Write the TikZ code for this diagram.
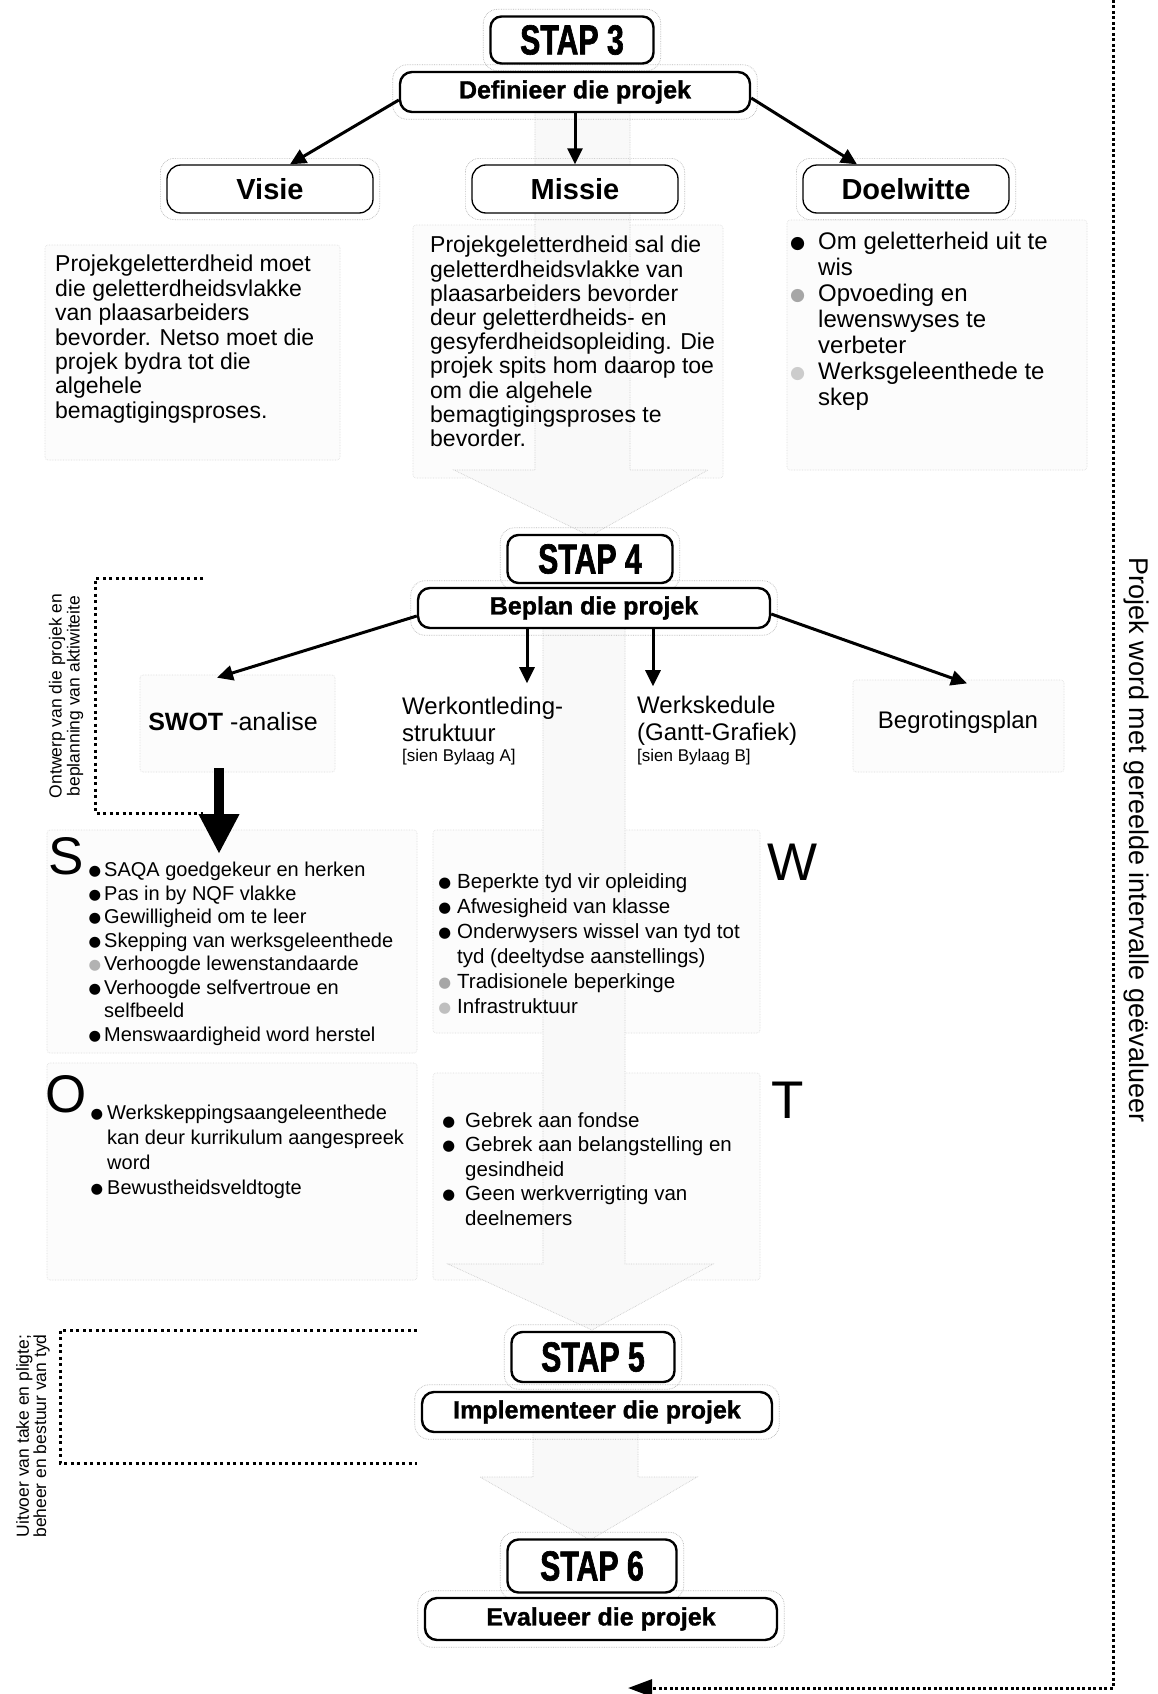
\documentclass[tikz,border=0pt]{standalone}
\usepackage{fontspec}
\usepackage{graphicx}
\setmainfont{Liberation Sans}
\newfontfamily\stapfont[FakeStretch=0.72,BoldFeatures={FakeBold=1.5}]{Liberation Sans}
\newfontfamily\subfont[BoldFeatures={FakeBold=1.2}]{Liberation Sans}
\newfontfamily\symfont{DejaVu Sans}
\usetikzlibrary{arrows.meta}
\pgfdeclarelayer{bg}
\pgfdeclarelayer{halolayer}
\pgfsetlayers{bg,halolayer,main}
\newcommand{\fsz}[2]{\fontsize{#1}{#2}\selectfont}
\newcommand{\sbul}[2][black]{\leavevmode\llap{\textcolor{#1}{\raisebox{0.04em}{\scalebox{0.72}{\symfont ●}}}\hspace{#2}}}
\begin{document}
\begin{tikzpicture}[x=1pt,y=1pt,
  stapbox/.style={draw=black, line width=2.4pt, rounded corners=11pt, fill=white, inner sep=0pt, font=\stapfont\bfseries\fsz{42}{42}},
  subbox/.style={draw=black, line width=2.4pt, rounded corners=12pt, fill=white, inner sep=0pt, font=\subfont\bfseries\fsz{25}{25}},
  headbox/.style={draw=black, line width=1.3pt, rounded corners=14pt, fill=white, inner sep=0pt, minimum width=206pt, minimum height=48pt, font=\bfseries\fsz{29}{29}},
  halobox/.style={draw=gray!55, line width=0.7pt, densely dotted, rounded corners=14pt},
  faintbox/.style={fill=gray!2, draw=gray!28, densely dotted, line width=0.6pt, rounded corners=3pt},
  blockarrow/.style={fill=gray!5, draw=gray!40, densely dotted, line width=0.7pt},
  body/.style={inner sep=0pt, anchor=north west, align=left},
  conn/.style={line width=3pt, -{Triangle[length=16pt,width=15pt]}},
  bigarrow/.style={line width=10pt, -{Triangle[length=40pt,width=38pt]}},
  dotline/.style={line width=3pt, dash pattern=on 3pt off 3.5pt},
  swotletter/.style={font=\fsz{53}{53}, inner sep=0pt},
]
\useasboundingbox (0,-1694) rectangle (1158,0);

% ---------- STAP 3 ----------
\node[stapbox, minimum width=163pt, minimum height=47pt] (s3) at (572,-40) {STAP 3};
\node[subbox, minimum width=350pt, minimum height=40pt] (d3) at (575,-92) {Definieer die projek};
\node[headbox] (visie) at (270,-189) {Visie};
\node[headbox] (missie) at (575,-189) {Missie};
\node[headbox] (doel) at (906,-189) {Doelwitte};

\node[body, font=\fsz{23}{24.4}] (visietxt) at (55,-255) {Projekgeletterdheid moet\\die geletterdheidsvlakke\\van plaasarbeiders\\bevorder. Netso moet die\\projek bydra tot die\\algehele\\bemagtigingsproses.};
\node[body, font=\fsz{23}{24.2}] (missietxt) at (430,-236) {Projekgeletterdheid sal die\\geletterdheidsvlakke van\\plaasarbeiders bevorder\\deur geletterdheids- en\\gesyferdheidsopleiding. Die\\projek spits hom daarop toe\\om die algehele\\bemagtigingsproses te\\bevorder.};
\node[body, font=\fsz{24}{26}] (doeltxt) at (818,-232) {\sbul{13pt}Om geletterheid uit te\\wis\\\sbul[gray!70]{13pt}Opvoeding en\\lewenswyses te\\verbeter\\\sbul[gray!40]{13pt}Werksgeleenthede te\\skep};

\draw[conn] ([yshift=-8pt]d3.west) -- ([xshift=20pt]visie.north);
\draw[conn] (d3.south) -- (missie.north);
\draw[conn] ([yshift=-6pt]d3.east) -- ([xshift=-49pt]doel.north);

% ---------- STAP 4 ----------
\node[stapbox, minimum width=165pt, minimum height=48pt] (s4) at (590,-559) {STAP 4};
\node[subbox, minimum width=352pt, minimum height=40pt] (b4) at (594,-608) {Beplan die projek};

\node[anchor=base, inner sep=0pt, font=\fsz{25}{25}] (swot) at (233,-730) {\textbf{SWOT} -analise};
\node[body, font=\fsz{24}{27}] (werk) at (402,-697) {Werkontleding-\\struktuur\\[-7pt]{\fsz{17}{17}[sien Bylaag A]}};
\node[body, font=\fsz{24}{27}] (sked) at (637,-696) {Werkskedule\\(Gantt-Grafiek)\\[-6pt]{\fsz{17}{17}[sien Bylaag B]}};
\node[anchor=base, inner sep=0pt, font=\fsz{24}{24}] (begr) at (958,-728) {Begrotingsplan};

\draw[conn] ([yshift=-8pt]b4.west) -- ([xshift=-16pt,yshift=34pt]swot.north);
\draw[conn] ([xshift=-67pt]b4.south) -- ([xshift=-67pt,yshift=-54pt]b4.south);
\draw[conn] ([xshift=59pt]b4.south) -- ([xshift=59pt,yshift=-57pt]b4.south);
\draw[conn] ([yshift=-6pt]b4.east) -- ([xshift=9pt,yshift=27pt]begr.north);

\draw[bigarrow] ([xshift=-14pt,yshift=-38pt]swot.base) -- ([xshift=-14pt,yshift=-124pt]swot.base);

% left bracket 1
\draw[dotline] (203,-578) -- (95,-578) -- (95,-813) -- (203,-813);
\node[rotate=90, align=center, font=\fsz{17.5}{18}, inner sep=0pt] (ontwerp) at (66,-696) {Ontwerp van die projek en\\beplanning van aktiwiteite};

% ---------- SWOT ----------
\node[swotletter] (S) at (66,-856) {S};
\node[body, font=\fsz{20}{23.5}] (Slist) at (104,-862) {\sbul{3pt}SAQA goedgekeur en herken\\\sbul{3pt}Pas in by NQF vlakke\\\sbul{3pt}Gewilligheid om te leer\\\sbul{3pt}Skepping van werksgeleenthede\\\sbul[gray!60]{3pt}Verhoogde lewenstandaarde\\\sbul{3pt}Verhoogde selfvertroue en\\selfbeeld\\\sbul{3pt}Menswaardigheid word herstel};

\node[swotletter] (W) at (793,-862) {W};
\node[body, font=\fsz{20.5}{25}] (Wlist) at (457,-873) {\sbul{6pt}Beperkte tyd vir opleiding\\\sbul{6pt}Afwesigheid van klasse\\\sbul{6pt}Onderwysers wissel van tyd tot\\tyd (deeltydse aanstellings)\\\sbul[gray!70]{6pt}Tradisionele beperkinge\\\sbul[gray!50]{6pt}Infrastruktuur};

\node[swotletter] (O) at (66,-1094) {O};
\node[body, font=\fsz{20}{25}] (Olist) at (107,-1105) {\sbul{4pt}Werkskeppingsaangeleenthede\\kan deur kurrikulum aangespreek\\word\\\sbul{4pt}Bewustheidsveldtogte};

\node[swotletter] (T) at (788,-1100) {T};
\node[body, font=\fsz{20.5}{24.5}] (Tlist) at (465,-1112) {\sbul{10pt}Gebrek aan fondse\\\sbul{10pt}Gebrek aan belangstelling en\\gesindheid\\\sbul{10pt}Geen werkverrigting van\\deelnemers};

% ---------- STAP 5 / 6 ----------
\node[stapbox, minimum width=163pt, minimum height=50pt] (s5) at (593,-1357) {STAP 5};
\node[subbox, minimum width=350pt, minimum height=40pt] (i5) at (597,-1412) {Implementeer die projek};
\node[stapbox, minimum width=169pt, minimum height=53pt] (s6) at (592,-1566) {STAP 6};
\node[subbox, minimum width=352pt, minimum height=42pt] (e6) at (601,-1619) {Evalueer die projek};

% left bracket 2
\draw[dotline] (417,-1330) -- (60,-1330) -- (60,-1463) -- (417,-1463);
\node[rotate=90, align=center, font=\fsz{17.5}{15.5}, inner sep=0pt] (uitvoer) at (33,-1436) {Uitvoer van take en pligte;\\beheer en bestuur van tyd};

% right return loop
\coordinate (rtop) at (1113,0);
\coordinate (rbot) at (1113,-1688);
\coordinate (rend) at (628,-1688);
\draw[dotline, dash pattern=on 3pt off 2.5pt, -{Triangle[length=24pt,width=17pt]}] (rtop) -- (rbot) -- (rend);
\node[rotate=-90, font=\fsz{27}{27}, inner sep=0pt] (evaltxt) at (1136,-840) {Projek word met gereelde intervalle geëvalueer};

% ---------- halos ----------
\begin{pgfonlayer}{halolayer}
\foreach \n in {s3,d3,s4,b4,s5,i5,s6,e6,visie,missie,doel}
  \draw[halobox] ([shift={(-6pt,6pt)}]\n.north west) rectangle ([shift={(6pt,-6pt)}]\n.south east);
\end{pgfonlayer}

% ---------- faint background ----------
\begin{pgfonlayer}{bg}
\fill[white] (0,-1694) rectangle (1158,0);
\draw[faintbox] (45,-245) rectangle (340,-460);
\draw[faintbox] (413,-225) rectangle (723,-478);
\draw[faintbox] (787,-220) rectangle (1087,-470);
\draw[faintbox] (140,-675) rectangle (335,-772);
\draw[faintbox] (853,-680) rectangle (1064,-772);
\draw[faintbox] (47,-830) rectangle (417,-1053);
\draw[faintbox] (433,-830) rectangle (760,-1033);
\draw[faintbox] (47,-1063) rectangle (417,-1280);
\draw[faintbox] (433,-1073) rectangle (760,-1280);
\path[blockarrow] (535,-112) -- (535,-470) -- (454,-470) -- (590,-536) -- (708,-470) -- (630,-470) -- (630,-112);
\path[blockarrow] (543,-628) -- (543,-1264) -- (448,-1264) -- (592,-1330) -- (713,-1264) -- (625,-1264) -- (625,-628);
\path[blockarrow] (533,-1432) -- (533,-1477) -- (480,-1477) -- (590,-1540) -- (697,-1477) -- (638,-1477) -- (638,-1432);
\end{pgfonlayer}
\end{tikzpicture}
\end{document}
